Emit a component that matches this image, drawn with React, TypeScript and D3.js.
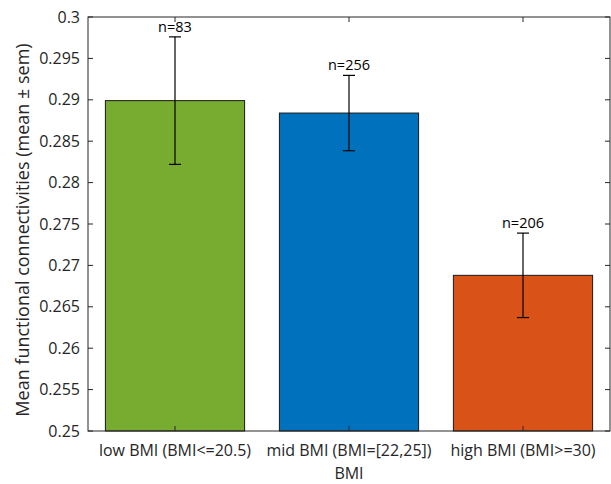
import React, { useEffect, useRef } from "react";
import * as d3 from "d3";

const categories = ["low BMI (BMI<=20.5)", "mid BMI (BMI=[22,25])", "high BMI (BMI>=30)"];
const means = [0.2899, 0.2884, 0.2688];
const sems = [0.0077, 0.00455, 0.0051];
const counts = ["n=83", "n=256", "n=206"];
const colors = ["#77AC30", "#0072BD", "#D95319"];
const yTicks = [0.25, 0.255, 0.26, 0.265, 0.27, 0.275, 0.28, 0.285, 0.29, 0.295, 0.3];

const W = 611, H = 484;
const M = { left: 88, right: 1, top: 17, bottom: 53 };
const FONT = "'Open Sans', 'Noto Sans', sans-serif";

export default function App() {
  const ref = useRef<SVGSVGElement>(null);
  useEffect(() => {
    const svg = d3.select(ref.current);
    svg.selectAll("*").remove();
    const x = d3.scaleLinear().domain([0.5, 3.5]).range([M.left, W - M.right]);
    const y = d3.scaleLinear().domain([0.25, 0.3]).range([H - M.bottom, M.top]);
    const g = svg.append("g");
    g.append("rect").attr("x", 0).attr("y", 0).attr("width", W).attr("height", H).attr("fill", "#fff");

    // bars
    g.selectAll("rect.bar").data(means).enter().append("rect")
      .attr("x", (_, i) => x(i + 1 - 0.4))
      .attr("width", (_, i) => x(i + 1 + 0.4) - x(i + 1 - 0.4))
      .attr("y", d => y(d))
      .attr("height", d => y(0.25) - y(d))
      .attr("fill", (_, i) => colors[i])
      .attr("stroke", "#1a1a1a").attr("stroke-width", 1);

    // error bars
    means.forEach((m, i) => {
      const cx = x(i + 1);
      const top = y(m + sems[i]), bot = y(m - sems[i]);
      g.append("line").attr("x1", cx).attr("x2", cx).attr("y1", top).attr("y2", bot)
        .attr("stroke", "#000").attr("stroke-width", 1.2);
      [top, bot].forEach(yy => g.append("line").attr("x1", cx - 6).attr("x2", cx + 6)
        .attr("y1", yy).attr("y2", yy).attr("stroke", "#000").attr("stroke-width", 1.2));
      g.append("text").attr("x", cx).attr("y", top - 5).attr("text-anchor", "middle")
        .attr("font-family", FONT).attr("font-size", 14.5).attr("fill", "#000").text(counts[i]);
    });

    // frame
    const x0 = x(0.5), x1 = x(3.5), y0 = y(0.25), y1 = y(0.3);
    g.append("rect").attr("x", x0).attr("y", y1).attr("width", x1 - x0).attr("height", y0 - y1)
      .attr("fill", "none").attr("stroke", "#262626").attr("stroke-width", 1);

    // y ticks
    yTicks.forEach(t => {
      const yy = y(t);
      g.append("line").attr("x1", x0).attr("x2", x0 + 5).attr("y1", yy).attr("y2", yy).attr("stroke", "#262626");
      g.append("line").attr("x1", x1 - 5).attr("x2", x1).attr("y1", yy).attr("y2", yy).attr("stroke", "#262626");
      g.append("text").attr("x", x0 - 8).attr("y", yy).attr("dy", "0.35em").attr("text-anchor", "end")
        .attr("font-family", FONT).attr("font-size", 16).attr("fill", "#262626").text(String(t));
    });
    // x ticks
    categories.forEach((c, i) => {
      const cx = x(i + 1);
      g.append("line").attr("x1", cx).attr("x2", cx).attr("y1", y0).attr("y2", y0 - 5).attr("stroke", "#262626");
      g.append("line").attr("x1", cx).attr("x2", cx).attr("y1", y1).attr("y2", y1 + 5).attr("stroke", "#262626");
      g.append("text").attr("x", cx).attr("y", y0 + 19).attr("dy", "0.35em").attr("text-anchor", "middle")
        .attr("font-family", FONT).attr("font-size", 16).attr("fill", "#262626").text(c);
    });

    g.append("text").attr("x", (x0 + x1) / 2).attr("y", H - 5).attr("text-anchor", "middle")
      .attr("font-family", FONT).attr("font-size", 16).attr("fill", "#262626").text("BMI");
    g.append("text").attr("transform", `translate(29,${(y0 + y1) / 2 + 6}) rotate(-90)`)
      .attr("text-anchor", "middle").attr("font-family", FONT).attr("font-size", 18)
      .attr("fill", "#262626").text("Mean functional connectivities (mean ± sem)");
  }, []);
  return (
    <svg ref={ref} width={W} height={H}
      style={{ position: "absolute", left: 0, top: 0, display: "block" }} />
  );
}
